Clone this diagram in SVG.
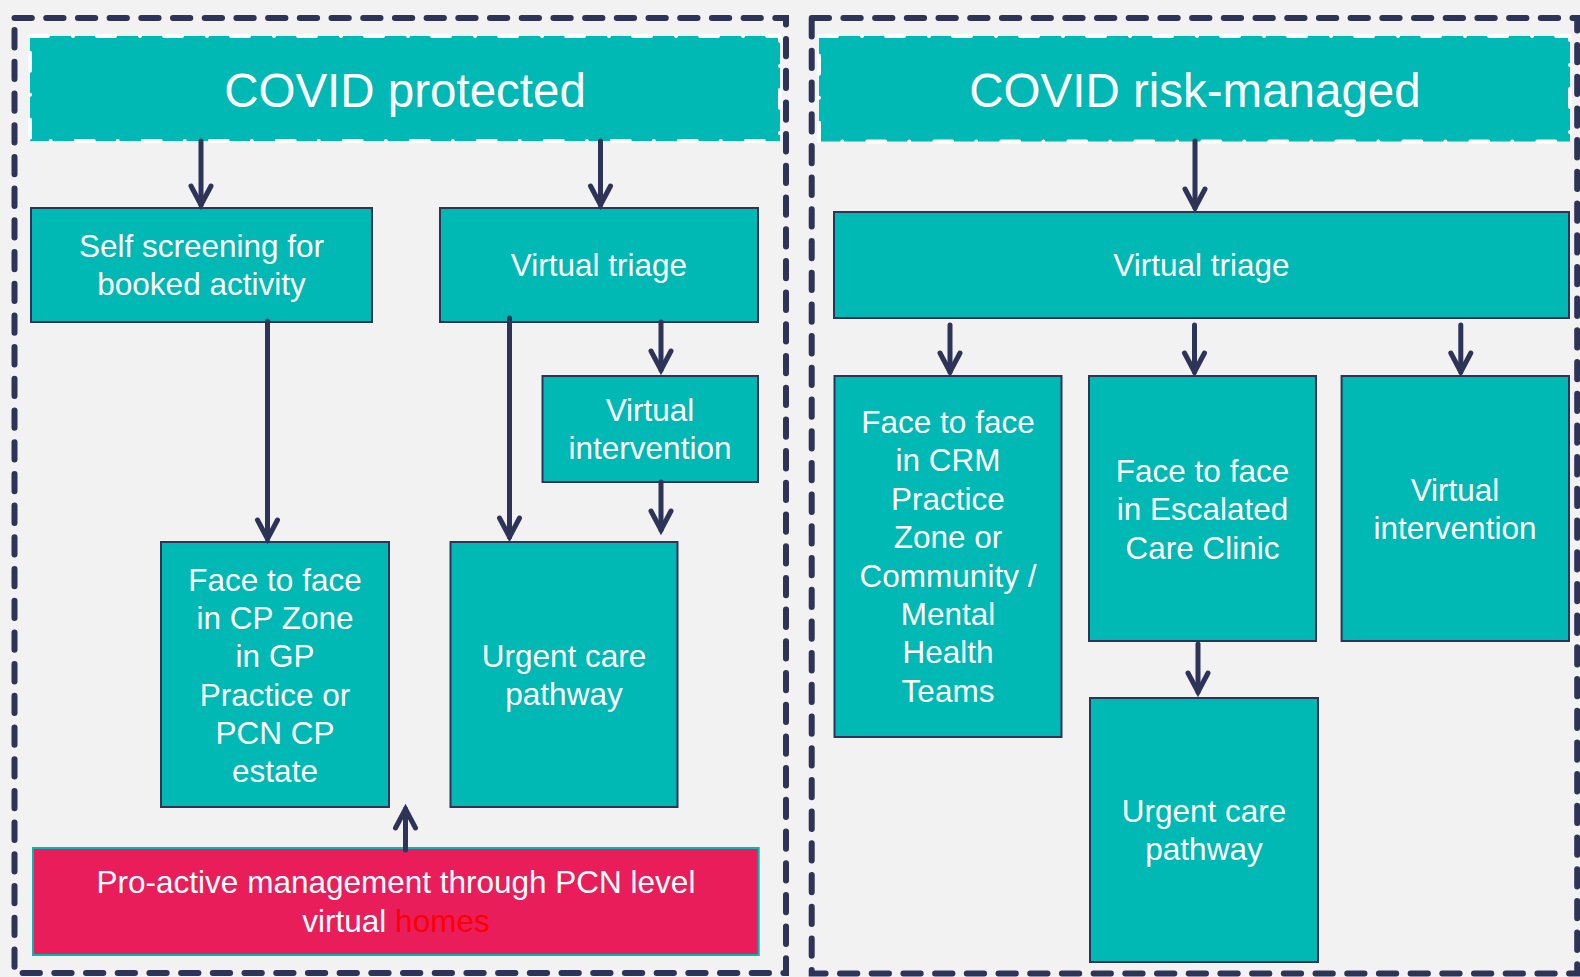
<svg xmlns="http://www.w3.org/2000/svg" width="1580" height="977" viewBox="0 0 1580 977">
<style>
.bg{fill:#F2F2F2}
.frame{fill:none;stroke:#2E3358;stroke-width:6;stroke-dasharray:17.3 14.4;stroke-linecap:round}
.hdr{fill:#00B8B4;stroke:#FFFFFF;stroke-width:4;stroke-dasharray:18 25 0.01 24;stroke-linecap:round}
.box{fill:#00B8B4;stroke:#2E3358;stroke-width:2}
.pink{fill:#E91D5A;stroke:#00B8B4;stroke-width:2}
.t{font-family:"Liberation Sans",Arial,sans-serif;font-size:31.5px;fill:#FFFFFF;text-anchor:middle}
.h{font-family:"Liberation Sans",Arial,sans-serif;font-size:47.5px;fill:#FFFFFF;text-anchor:middle}
.red{fill:#FF0000}
.con{fill:none;stroke:#2E3358;stroke-width:5;stroke-linecap:round}
</style>
<defs>
<marker id="arr" markerUnits="userSpaceOnUse" markerWidth="40" markerHeight="40" refX="0" refY="0" orient="auto" overflow="visible">
<path d="M-19,-10 L0,0 L-19,10" fill="none" stroke="#2E3358" stroke-width="5" stroke-linecap="round" stroke-linejoin="miter"/>
</marker>
</defs>
<rect class="bg" x="0" y="0" width="1580" height="977"/>

<g id="frame-left"><rect class="frame" x="14.5" y="18" width="771.5" height="955"/></g>
<g id="frame-right"><rect class="frame" x="811.7" y="18" width="765.5" height="955.5"/></g>

<g id="hdr-protected">
<rect class="hdr" x="30" y="36" width="750" height="105"/>
<text class="h" x="405" y="107">COVID protected</text>
</g>
<g id="hdr-risk">
<rect class="hdr" x="819" y="36" width="751" height="105.5"/>
<text class="h" x="1195" y="107">COVID risk-managed</text>
</g>

<g id="self-screening">
<rect class="box" x="31" y="208" width="341" height="114"/>
<text class="t"><tspan x="201.5" y="257">Self screening for</tspan><tspan x="201.5" y="295.3">booked activity</tspan></text>
</g>
<g id="virtual-triage-left">
<rect class="box" x="440" y="208" width="318" height="114"/>
<text class="t" x="599" y="276">Virtual triage</text>
</g>
<g id="virtual-intervention-left">
<rect class="box" x="542.5" y="376" width="215.5" height="106"/>
<text class="t"><tspan x="650" y="421">Virtual</tspan><tspan x="650" y="459.3">intervention</tspan></text>
</g>
<g id="face-cp">
<rect class="box" x="161" y="542" width="228" height="265"/>
<text class="t"><tspan x="275" y="591">Face to face</tspan><tspan x="275" y="629.2">in CP Zone</tspan><tspan x="275" y="667.4">in GP</tspan><tspan x="275" y="705.6">Practice or</tspan><tspan x="275" y="743.8">PCN CP</tspan><tspan x="275" y="782">estate</tspan></text>
</g>
<g id="urgent-left">
<rect class="box" x="450.5" y="542" width="227" height="265"/>
<text class="t"><tspan x="564" y="667">Urgent care</tspan><tspan x="564" y="705.3">pathway</tspan></text>
</g>
<g id="proactive">
<rect class="pink" x="33" y="848" width="725.7" height="107"/>
<text class="t"><tspan x="396" y="893">Pro-active management through PCN level</tspan><tspan x="396" y="931.5">virtual <tspan class="red">homes</tspan></tspan></text>
</g>

<g id="virtual-triage-right">
<rect class="box" x="834" y="212" width="735" height="106"/>
<text class="t" x="1201.5" y="276">Virtual triage</text>
</g>
<g id="face-crm">
<rect class="box" x="834.5" y="376" width="227" height="361"/>
<text class="t"><tspan x="948" y="433">Face to face</tspan><tspan x="948" y="471.4">in CRM</tspan><tspan x="948" y="509.8">Practice</tspan><tspan x="948" y="548.2">Zone or</tspan><tspan x="948" y="586.6">Community /</tspan><tspan x="948" y="625">Mental</tspan><tspan x="948" y="663.4">Health</tspan><tspan x="948" y="701.8">Teams</tspan></text>
</g>
<g id="face-escalated">
<rect class="box" x="1089" y="376" width="227" height="265"/>
<text class="t"><tspan x="1202.5" y="482">Face to face</tspan><tspan x="1202.5" y="520.3">in Escalated</tspan><tspan x="1202.5" y="558.6">Care Clinic</tspan></text>
</g>
<g id="virtual-intervention-right">
<rect class="box" x="1341.6" y="376" width="227.4" height="265"/>
<text class="t"><tspan x="1455" y="501">Virtual</tspan><tspan x="1455" y="539.3">intervention</tspan></text>
</g>
<g id="urgent-right">
<rect class="box" x="1090" y="698" width="228" height="264"/>
<text class="t"><tspan x="1204" y="822">Urgent care</tspan><tspan x="1204" y="860.3">pathway</tspan></text>
</g>

<g id="connectors">
<path class="con" marker-end="url(#arr)" d="M201,141 L201,205"/>
<path class="con" marker-end="url(#arr)" d="M600.5,141 L600.5,205"/>
<path class="con" marker-end="url(#arr)" d="M1195,141 L1195,208"/>
<path class="con" marker-end="url(#arr)" d="M267.5,321 L267.5,539"/>
<path class="con" marker-end="url(#arr)" d="M509.5,318 L509.5,537"/>
<path class="con" marker-end="url(#arr)" d="M661,322 L661,370"/>
<path class="con" marker-end="url(#arr)" d="M661,482 L661,530"/>
<path class="con" marker-end="url(#arr)" d="M405.5,850 L405.5,809"/>
<path class="con" marker-end="url(#arr)" d="M950,325 L950,372"/>
<path class="con" marker-end="url(#arr)" d="M1194.5,325 L1194.5,372"/>
<path class="con" marker-end="url(#arr)" d="M1460.8,325 L1460.8,372"/>
<path class="con" marker-end="url(#arr)" d="M1198,644 L1198,692"/>
</g>
</svg>
